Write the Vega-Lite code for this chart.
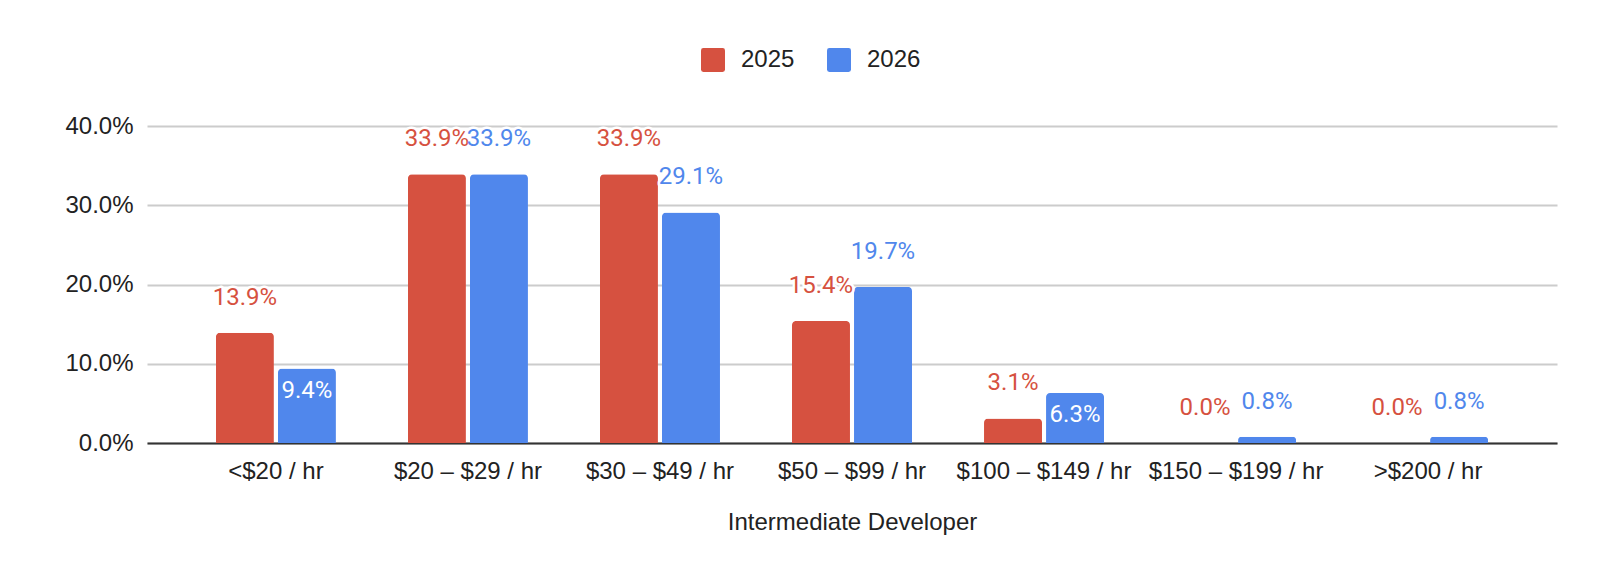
{
  "$schema": "https://vega.github.io/schema/vega-lite/v6.json",
  "autosize": "none",
  "width": 1410,
  "height": 317,
  "padding": {"left": 147, "top": 126, "right": 57, "bottom": 125},
  "background": "white",
  "config": {
    "view": {"stroke": null},
    "axis": {"labelFont": "Liberation Sans", "titleFont": "Liberation Sans", "labelColor": "#222222", "titleColor": "#222222"},
    "legend": {"labelFont": "Liberation Sans", "labelColor": "#222222"}
  },
  "data": {
    "values": [
      {"range": "<$20 / hr", "year": "2025", "value": 0.139},
      {"range": "<$20 / hr", "year": "2026", "value": 0.094},
      {"range": "$20 – $29 / hr", "year": "2025", "value": 0.339},
      {"range": "$20 – $29 / hr", "year": "2026", "value": 0.339},
      {"range": "$30 – $49 / hr", "year": "2025", "value": 0.339},
      {"range": "$30 – $49 / hr", "year": "2026", "value": 0.291},
      {"range": "$50 – $99 / hr", "year": "2025", "value": 0.154},
      {"range": "$50 – $99 / hr", "year": "2026", "value": 0.197},
      {"range": "$100 – $149 / hr", "year": "2025", "value": 0.031},
      {"range": "$100 – $149 / hr", "year": "2026", "value": 0.063},
      {"range": "$150 – $199 / hr", "year": "2025", "value": 0.0},
      {"range": "$150 – $199 / hr", "year": "2026", "value": 0.008},
      {"range": ">$200 / hr", "year": "2025", "value": 0.0},
      {"range": ">$200 / hr", "year": "2026", "value": 0.008}
    ]
  },
  "encoding": {
    "x": {
      "field": "range", "type": "nominal", "sort": null,
      "scale": {"paddingInner": 0.375, "paddingOuter": 0.359},
      "axis": {
        "title": "Intermediate Developer", "labelAngle": 0, "ticks": false,
        "domainColor": "#333333", "domainWidth": 2, "labelFontSize": 24, "labelPadding": 16,
        "titleFontSize": 24, "titleFontWeight": "normal", "titlePadding": 27, "grid": false
      }
    },
    "xOffset": {"field": "year", "type": "nominal", "scale": {"paddingInner": 0.065}},
    "y": {
      "field": "value", "type": "quantitative",
      "scale": {"domain": [0, 0.4]},
      "axis": {
        "title": null, "format": ".1%", "values": [0, 0.1, 0.2, 0.3, 0.4],
        "domain": false, "ticks": false, "gridColor": "#cccccc", "gridWidth": 2,
        "labelFontSize": 24, "labelPadding": 14
      }
    }
  },
  "layer": [
    {
      "mark": {"type": "bar", "cornerRadiusTopLeft": 4, "cornerRadiusTopRight": 4},
      "encoding": {
        "color": {
          "field": "year", "type": "nominal",
          "scale": {"domain": ["2025", "2026"], "range": ["#d65140", "#5087ec"]},
          "legend": {
            "title": null, "orient": "none", "direction": "horizontal",
            "legendX": 554, "legendY": -78,
            "symbolType": "M-0.8,-1L0.8,-1Q1,-1,1,-0.8L1,0.8Q1,1,0.8,1L-0.8,1Q-1,1,-1,0.8L-1,-0.8Q-1,-1,-0.8,-1Z",
            "symbolSize": 576, "symbolStrokeWidth": 0, "symbolOpacity": 1,
            "labelFontSize": 24, "labelOffset": 16, "columnPadding": 32
          }
        }
      }
    },
    {
      "transform": [{"filter": "!(datum.year == '2026' && (datum.range == '<$20 / hr' || datum.range == '$100 – $149 / hr'))"}],
      "mark": {"type": "text", "font": "Roboto", "fontSize": 24, "baseline": "middle", "dy": -35, "color": "white", "stroke": "white", "strokeWidth": 5, "strokeJoin": "round"},
      "encoding": {"text": {"field": "value", "type": "quantitative", "format": ".1%"}}
    },
    {
      "transform": [{"filter": "!(datum.year == '2026' && (datum.range == '<$20 / hr' || datum.range == '$100 – $149 / hr'))"}],
      "mark": {"type": "text", "font": "Roboto", "fontSize": 24, "baseline": "middle", "dy": -35},
      "encoding": {
        "text": {"field": "value", "type": "quantitative", "format": ".1%"},
        "color": {"field": "year", "type": "nominal", "legend": null}
      }
    },
    {
      "transform": [{"filter": "datum.year == '2026' && (datum.range == '<$20 / hr' || datum.range == '$100 – $149 / hr')"}],
      "mark": {"type": "text", "font": "Roboto", "fontSize": 24, "baseline": "middle", "dy": 22, "color": "white"},
      "encoding": {"text": {"field": "value", "type": "quantitative", "format": ".1%"}}
    }
  ]
}
